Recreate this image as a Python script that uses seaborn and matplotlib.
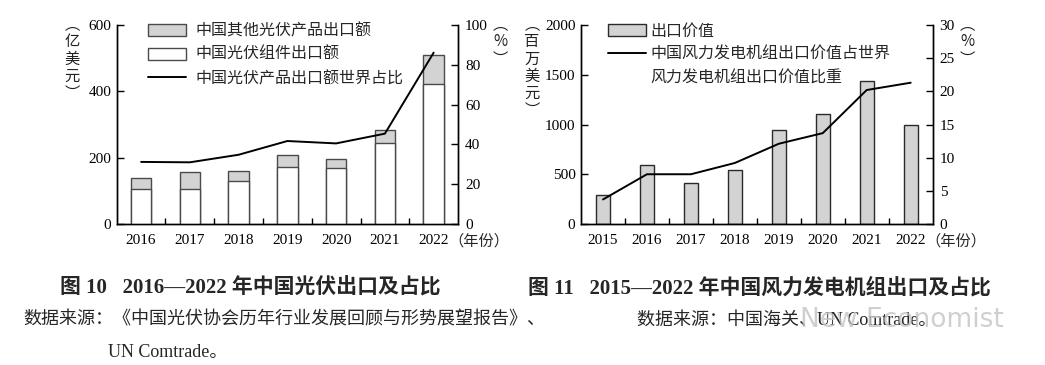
import numpy as np
import pandas as pd
import matplotlib
matplotlib.use("Agg")
import matplotlib.pyplot as plt
import seaborn as sns
from matplotlib.patches import Patch
from matplotlib.lines import Line2D

# ---------------- data ----------------
pv_years = ["2016", "2017", "2018", "2019", "2020", "2021", "2022"]
pv_total = [140, 157, 160, 207, 196, 282, 510]          # 中国光伏产品出口额（组件+其他）
pv_module = [105, 105, 129, 172, 168, 243, 421]         # 中国光伏组件出口额
pv_share = [31.2, 31.0, 34.8, 41.7, 40.5, 45.4, 86.1]    # 世界占比 %

wind_years = ["2015", "2016", "2017", "2018", "2019", "2020", "2021", "2022"]
wind_value = [290, 590, 412, 546, 945, 1105, 1434, 992]  # 百万美元
wind_share = [3.7, 7.5, 7.5, 9.2, 12.1, 13.7, 20.2, 21.3]  # %

pv_left_ticks = [0, 200, 400, 600]
pv_right_ticks = [0, 20, 40, 60, 80, 100]
wind_left_ticks = [0, 500, 1000, 1500, 2000]
wind_right_ticks = [0, 5, 10, 15, 20, 25, 30]

# ---------------- style ----------------
sns.set_theme(style="white")
plt.rcParams["font.family"] = ["Liberation Serif", "Noto Sans CJK SC", "DejaVu Sans"]
plt.rcParams["axes.unicode_minus"] = False

GRAY = "#d3d3d3"
EDGE = "#4a4a4a"
FS_TICK = 11
FS_LEG = 11.5

fig = plt.figure(figsize=(10.45, 3.65), dpi=100)
axL = fig.add_axes([0.1117, 0.3863, 0.3266, 0.5452])
axR = fig.add_axes([0.5560, 0.3863, 0.3365, 0.5452])


def style_axes(ax, ax2, n, yticks, y2ticks):
    ax.set_xlim(-0.5, n - 0.5)
    ax.set_ylim(yticks[0], yticks[-1])
    ax.set_yticks(yticks)
    ax2.set_ylim(y2ticks[0], y2ticks[-1])
    ax2.set_yticks(y2ticks)
    ax.set_xlabel("")
    ax.set_ylabel("")
    ax2.set_xlabel("")
    ax2.set_ylabel("")
    for a in (ax, ax2):
        a.spines["top"].set_visible(False)
        for s in ("left", "right", "bottom"):
            a.spines[s].set_color("black")
            a.spines[s].set_linewidth(1.0)
        a.grid(False)
    ax.set_xticks(np.arange(n))
    ax.set_xticks(np.arange(n - 1) + 0.5, minor=True)
    ax.tick_params(axis="x", which="major", length=0, pad=7, labelsize=FS_TICK)
    ax.tick_params(axis="x", which="minor", direction="in", length=4.5, width=1.0,
                   color="black", bottom=True)
    ax.tick_params(axis="y", direction="in", length=5, width=1.0, color="black",
                   pad=4, labelsize=FS_TICK, left=True)
    ax2.tick_params(axis="y", direction="in", length=5, width=1.0, color="black",
                    pad=5, labelsize=FS_TICK, right=True)
    for lab in ax.get_xticklabels() + ax.get_yticklabels() + ax2.get_yticklabels():
        lab.set_color("black")


# ---------------- left chart: PV ----------------
pv_df = pd.DataFrame({"year": pv_years, "total": pv_total, "module": pv_module})
sns.barplot(data=pv_df, x="year", y="total", ax=axL, color=GRAY, saturation=1,
            width=0.42, edgecolor=EDGE, linewidth=1.0, zorder=2)
sns.barplot(data=pv_df, x="year", y="module", ax=axL, color="white", saturation=1,
            width=0.42, edgecolor=EDGE, linewidth=1.0, zorder=3)
axL2 = axL.twinx()
sns.lineplot(x=np.arange(len(pv_years)), y=pv_share, ax=axL2, color="black",
             linewidth=1.4, zorder=5)
style_axes(axL, axL2, len(pv_years), pv_left_ticks, pv_right_ticks)

leg_handles = [Patch(facecolor=GRAY, edgecolor=EDGE, linewidth=1.0),
               Patch(facecolor="white", edgecolor=EDGE, linewidth=1.0),
               Line2D([0], [0], color="black", linewidth=1.4)]
leg_labels = ["中国其他光伏产品出口额", "中国光伏组件出口额", "中国光伏产品出口额世界占比"]
axL2.legend(leg_handles, leg_labels, loc="upper left",
            bbox_to_anchor=(0.1416, 0.936), bbox_transform=fig.transFigure,
            frameon=False, fontsize=FS_LEG, handlelength=2.4, handleheight=0.8,
            handletextpad=0.6, labelspacing=0.49, borderpad=0, borderaxespad=0)

# ---------------- right chart: wind ----------------
wind_df = pd.DataFrame({"year": wind_years, "value": wind_value})
sns.barplot(data=wind_df, x="year", y="value", ax=axR, color=GRAY, saturation=1,
            width=0.32, edgecolor="#2a2a2a", linewidth=1.0, zorder=2)
axR2 = axR.twinx()
sns.lineplot(x=np.arange(len(wind_years)), y=wind_share, ax=axR2, color="black",
             linewidth=1.4, zorder=5)
style_axes(axR, axR2, len(wind_years), wind_left_ticks, wind_right_ticks)

leg_handles_r = [Patch(facecolor=GRAY, edgecolor="#2a2a2a", linewidth=1.0),
                 Line2D([0], [0], color="black", linewidth=1.4),
                 Line2D([0], [0], color="none", linewidth=0)]
leg_labels_r = ["出口价值", "中国风力发电机组出口价值占世界", "风力发电机组出口价值比重"]
axR2.legend(leg_handles_r, leg_labels_r, loc="upper left",
            bbox_to_anchor=(0.5818, 0.936), bbox_transform=fig.transFigure,
            frameon=False, fontsize=FS_LEG, handlelength=2.4, handleheight=0.8,
            handletextpad=0.25, labelspacing=0.49, borderpad=0, borderaxespad=0)

# ---------------- axis unit labels ----------------
def vlabel(x_px, y_px, chars):
    fig.text(x_px / 1045, 1 - y_px / 365, "\n".join(chars), ha="center", va="top",
             fontsize=11, linespacing=1.02, family=["Noto Sans CJK SC"], color="#222222")

vlabel(72, 16, ["︵", "亿", "美", "元", "︶"])
vlabel(500, 16, ["︵", "%", "︶"])
vlabel(532, 16, ["︵", "百", "万", "美", "元", "︶"])
vlabel(967, 16, ["︵", "%", "︶"])

fig.text(448 / 1045, 1 - 241 / 365, "（年份）", ha="left", va="center", fontsize=FS_TICK,
         family=["Noto Sans CJK SC"])
fig.text(925 / 1045, 1 - 241 / 365, "（年份）", ha="left", va="center", fontsize=FS_TICK,
         family=["Noto Sans CJK SC"])

# ---------------- titles and sources ----------------
fig.text(60 / 1045, 1 - 288 / 365, "图 10   2016—2022 年中国光伏出口及占比", ha="left",
         va="center", fontsize=15, fontweight="bold")
fig.text(528 / 1045, 1 - 288 / 365, "图 11   2015—2022 年中国风力发电机组出口及占比", ha="left",
         va="center", fontsize=15, fontweight="bold")
fig.text(23 / 1045, 1 - 320 / 365, "数据来源：《中国光伏协会历年行业发展回顾与形势展望报告》、",
         ha="left", va="center", fontsize=13)
fig.text(108 / 1045, 1 - 353 / 365, "UN Comtrade。", ha="left", va="center", fontsize=13)
fig.text(637 / 1045, 1 - 320 / 365, "数据来源：中国海关、UN Comtrade。", ha="left",
         va="center", fontsize=13)
fig.text(800 / 1045, 1 - 320 / 365, "New Economist", ha="left", va="center", fontsize=19,
         family=["DejaVu Sans"], color="#c4c4c4", alpha=0.8)

fig.savefig("out.png", dpi=100)
